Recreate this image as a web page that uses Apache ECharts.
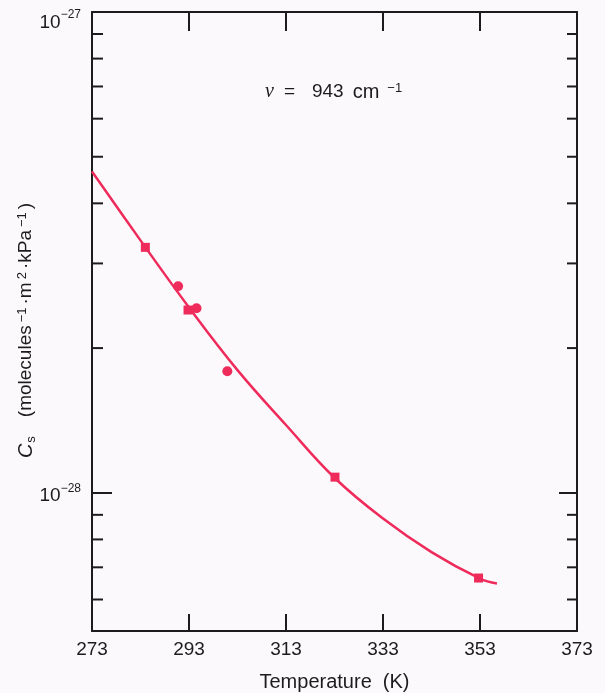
<!DOCTYPE html>
<html><head><meta charset="utf-8">
<script src="https://cdn.jsdelivr.net/npm/echarts@6/dist/echarts.min.js"></script>
<style>html,body{margin:0;padding:0;background:#fcf9fc}#c{width:605px;height:693px}</style>
</head><body><div id="c"></div>
<script>
// Data
const squareTemps = [284.0, 292.8, 323.1, 352.7];
const squareValues = [3.24e-28, 2.40e-28, 1.078e-28, 6.65e-29];
const circleTemps = [290.75, 294.55, 300.9];
const circleValues = [2.69e-28, 2.42e-28, 1.79e-28];
const curveTemps = [273, 283, 293, 303, 313, 323, 333, 343, 353, 356.5];
const curveValues = [4.66e-28, 3.35e-28, 2.43e-28, 1.80e-28, 1.384e-28, 1.075e-28, 8.84e-29, 7.53e-29, 6.63e-29, 6.48e-29];
const xTicks = [273, 293, 313, 333, 353, 373];
const yMinorTicks = [6e-29, 7e-29, 8e-29, 9e-29, 2e-28, 3e-28, 4e-28, 5e-28, 6e-28, 7e-28, 8e-28, 9e-28];
const xTitle = 'Temperature  (K)';
const yTitleParts = ['C', 's', '(molecules', '−1', '·m', '2', '·kPa', '−1', ')'];

const RED = '#ee2b5b';
const INK = '#1c1c1c';
const FONT = '"Liberation Sans", Arial, sans-serif';
const Y_MIN = 5.16e-29, Y_MAX = 1e-27;
const X_MIN = xTicks[0], X_MAX = xTicks[xTicks.length - 1];

const pair = (xs, ys) => xs.map((x, i) => [x, ys[i]]);
const isPow10 = v => v > 0 && Math.abs(Math.log10(v) - Math.round(Math.log10(v))) < 1e-6;

function yAxisDef(position, len, labels) {
  return {
    type: 'log', position, min: Y_MIN, max: Y_MAX,
    axisLine: { show: true, onZero: false, lineStyle: { color: INK, width: 2 } },
    splitLine: { show: false },
    minorTick: { show: false },
    axisTick: { show: true, inside: true, length: len, lineStyle: { color: INK, width: 2 } },
    axisLabel: labels ? {
      show: true, margin: 11, fontFamily: FONT, color: INK,
      formatter: v => {
        if (!isPow10(v)) return '';
        const e = Math.round(Math.log10(v));
        return e === -27 ? '{tb|10}{ts|−' + (-e) + '}' : '{b|10}{s|−' + (-e) + '}';
      },
      rich: {
        b: { fontSize: 19, fontFamily: FONT, color: INK, padding: [6, 0, 0, 0] },
        s: { fontSize: 12, fontFamily: FONT, color: INK, verticalAlign: 'top', padding: [2, 0, 0, 0] },
        tb: { fontSize: 19, fontFamily: FONT, color: INK, padding: [22, 0, 0, 0] },
        ts: { fontSize: 12, fontFamily: FONT, color: INK, verticalAlign: 'top', padding: [17, 0, 0, 0] }
      }
    } : { show: false }
  };
}

function xAxisDef(position, len, labels) {
  return {
    type: 'value', position, min: X_MIN, max: X_MAX, interval: 20,
    axisLine: { show: true, onZero: false, lineStyle: { color: INK, width: 2 } },
    splitLine: { show: false },
    axisTick: { show: true, inside: true, length: len, lineStyle: { color: INK, width: 2 } },
    axisLabel: labels ? { show: true, margin: 9, fontSize: 19, fontFamily: FONT, color: INK } : { show: false }
  };
}

const bottomX = xAxisDef('bottom', 17, true);
bottomX.name = xTitle;
bottomX.nameLocation = 'middle';
bottomX.nameGap = 41;
bottomX.nameTextStyle = { fontSize: 20, fontFamily: FONT, color: INK };

const p = yTitleParts;
const yTitleRich = '{i|' + p[0] + '}{sub|' + p[1] + '}{gap| }{n|' + p[2] + '}{sup|' + p[3] + '}{n|' + p[4] +
  '}{sup|' + p[5] + '}{n|' + p[6] + '}{sup|' + p[7] + '}{n|' + p[8] + '}';

const option = {
  backgroundColor: '#fcf9fc',
  animation: false,
  grid: { left: 92, right: 28, top: 12, bottom: 62, containLabel: false, outerBoundsMode: 'none' },
  xAxis: [bottomX, xAxisDef('top', 19, false)],
  yAxis: [yAxisDef('left', 20, true), yAxisDef('right', 18, false)],
  graphic: [
    {
      type: 'text', left: 265, top: 82, silent: true,
      style: {
        text: '{v|ν}{eq|=}{n|943}{cm|cm}{s|−1}',
        rich: {
          v: { fontSize: 20, fontFamily: '"Liberation Serif", serif', fontStyle: 'italic', fill: INK },
          eq: { fontSize: 19, fontFamily: FONT, fill: INK, padding: [0, 17, 0, 10] },
          n: { fontSize: 19, fontFamily: FONT, fill: INK },
          cm: { fontSize: 20, fontFamily: FONT, fill: INK, padding: [0, 0, 0, 9] },
          s: { fontSize: 13, fontFamily: FONT, fill: INK, verticalAlign: 'top', padding: [0, 0, 0, 8] }
        }
      }
    },
    {
      type: 'text', x: 26, y: 329, rotation: Math.PI / 2, silent: true,
      style: {
        text: yTitleRich, align: 'center', verticalAlign: 'middle',
        rich: {
          i: { fontSize: 20, fontStyle: 'italic', fontFamily: FONT, fill: INK },
          sub: { fontSize: 13, fontFamily: FONT, fill: INK, verticalAlign: 'bottom', padding: [0, 0, -2, 1] },
          gap: { fontSize: 19, fontFamily: FONT, fill: INK, width: 16 },
          n: { fontSize: 19, fontFamily: FONT, fill: INK, padding: [0, 3, 0, 3] },
          sup: { fontSize: 13, fontFamily: FONT, fill: INK, verticalAlign: 'top' }
        }
      }
    }
  ],
  series: [
    {
      type: 'custom', name: 'minorTicks', xAxisIndex: 0, yAxisIndex: 0,
      data: yMinorTicks.map(v => [X_MIN, v]),
      encode: { x: 0, y: 1 },
      silent: true, clip: false, z: 1,
      renderItem: (params, api) => {
        const v = api.value(1);
        const l = api.coord([X_MIN, v]);
        const r = api.coord([X_MAX, v]);
        const st = { stroke: INK, lineWidth: 2 };
        return {
          type: 'group', children: [
            { type: 'line', shape: { x1: l[0], y1: l[1], x2: l[0] + 11, y2: l[1] }, style: st },
            { type: 'line', shape: { x1: r[0] - 10, y1: r[1], x2: r[0], y2: r[1] }, style: st }
          ]
        };
      }
    },
    {
      type: 'line', name: 'fit', xAxisIndex: 0, yAxisIndex: 0,
      data: pair(curveTemps, curveValues), smooth: 0.4, symbol: 'none',
      lineStyle: { color: RED, width: 2.5 }, z: 2
    },
    {
      type: 'scatter', name: 'squares', xAxisIndex: 0, yAxisIndex: 0,
      data: pair(squareTemps, squareValues), symbol: 'rect', symbolSize: 9,
      itemStyle: { color: RED, opacity: 1 }, z: 3
    },
    {
      type: 'scatter', name: 'circles', xAxisIndex: 0, yAxisIndex: 0,
      data: pair(circleTemps, circleValues), symbol: 'circle', symbolSize: 10,
      itemStyle: { color: RED, opacity: 1 }, z: 3
    }
  ]
};

const chart = echarts.init(document.getElementById('c'), null, { renderer: 'canvas' });
chart.setOption(option);
</script>
</body></html>
